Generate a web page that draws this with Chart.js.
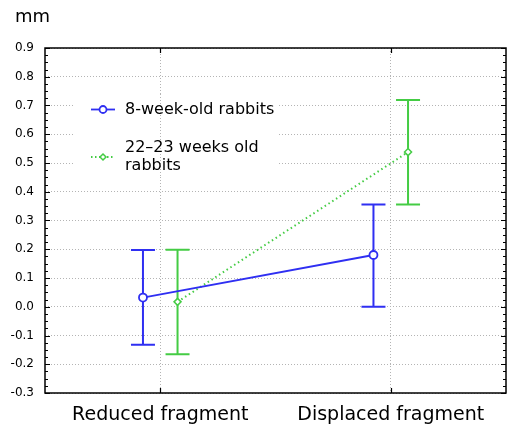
<!DOCTYPE html>
<html>
<head>
<meta charset="utf-8">
<script src="https://cdn.jsdelivr.net/npm/chart.js@4.4.1/dist/chart.umd.min.js"></script>
<style>
  html, body { margin: 0; padding: 0; background: #fff; }
  #wrap { width: 515px; height: 432px; }
</style>
</head>
<body>
<div id="wrap"><canvas id="chart" width="515" height="432"></canvas></div>
<script>
const categories = ['Reduced fragment', 'Displaced fragment'];
const seriesNames = ['8-week-old rabbits', ['22–23 weeks old', 'rabbits']];

// means and error bar ends (mm)
const youngMean = [0.032, 0.180];
const youngLow  = [-0.132, 0.000];
const youngHigh = [0.197, 0.356];
const olderMean = [0.017, 0.538];
const olderLow  = [-0.165, 0.356];
const olderHigh = [0.198, 0.719];

const yTicksMin = -0.3, yTicksMax = 0.9;

const BLUE = '#2f2ff2';
const GREEN = '#44cc44';
const FONT = "'DejaVu Sans', sans-serif";

const catX = i => i * 2 + 1;

const youngPts = youngMean.map((v, i) => ({ x: catX(i) - 0.15, y: v }));
const olderPts = olderMean.map((v, i) => ({ x: catX(i) + 0.15, y: v }));

const frame = {
    id: 'frame',
    beforeDatasetsDraw(chart) {
        const { ctx, scales } = chart;
        // white patch behind the legend, vertical grid line stays visible
        ctx.save();
        ctx.fillStyle = '#fff';
        ctx.fillRect(75, 94, 202, 82);
        ctx.strokeStyle = '#b4b4b4';
        ctx.setLineDash([1, 2]);
        ctx.lineWidth = 1;
        const gx = Math.round(scales.x.getPixelForValue(catX(0))) + 0.5;
        ctx.beginPath();
        ctx.moveTo(gx, 94);
        ctx.lineTo(gx, 176);
        ctx.stroke();
        ctx.restore();

        // error bars
        const bars = [
            [youngPts, youngLow, youngHigh, BLUE],
            [olderPts, olderLow, olderHigh, GREEN]
        ];
        ctx.save();
        ctx.lineWidth = 2;
        bars.forEach(([pts, lo, hi, col]) => {
            ctx.strokeStyle = col;
            pts.forEach((p, i) => {
                const x = scales.x.getPixelForValue(p.x);
                const y1 = scales.y.getPixelForValue(lo[i]);
                const y2 = scales.y.getPixelForValue(hi[i]);
                ctx.beginPath();
                ctx.moveTo(x, y1); ctx.lineTo(x, y2);
                ctx.moveTo(x - 12, y1); ctx.lineTo(x + 12, y1);
                ctx.moveTo(x - 12, y2); ctx.lineTo(x + 12, y2);
                ctx.stroke();
            });
        });
        ctx.restore();
    },
    afterDraw(chart) {
        const { ctx, chartArea: a, scales } = chart;
        ctx.save();
        ctx.strokeStyle = '#000';
        ctx.lineWidth = 1.5;
        ctx.strokeRect(a.left, a.top, a.right - a.left, a.bottom - a.top);

        // ticks on left and right axes, 4 minor steps per label
        ctx.lineWidth = 1.2;
        ctx.beginPath();
        for (let i = 0; i <= 48; i++) {
            const y = Math.round(scales.y.getPixelForValue(yTicksMin + i * 0.025)) + 0.5;
            const len = i % 4 === 0 ? 5 : 3;
            ctx.moveTo(a.left, y); ctx.lineTo(a.left + len, y);
            ctx.moveTo(a.right, y); ctx.lineTo(a.right - len, y);
        }
        categories.forEach((c, i) => {
            const x = Math.round(scales.x.getPixelForValue(catX(i))) + 0.5;
            ctx.moveTo(x, a.top); ctx.lineTo(x, a.top + 5);
            ctx.moveTo(x, a.bottom); ctx.lineTo(x, a.bottom - 5);
        });
        ctx.stroke();

        // unit label
        ctx.fillStyle = '#000';
        ctx.font = '18px ' + FONT;
        ctx.textBaseline = 'middle';
        ctx.fillText('mm', 15, 17);

        // legend
        ctx.font = '16px ' + FONT;
        ctx.lineWidth = 1.8;
        ctx.strokeStyle = BLUE;
        ctx.beginPath(); ctx.moveTo(91, 109.5); ctx.lineTo(115, 109.5); ctx.stroke();
        ctx.fillStyle = '#fff';
        ctx.beginPath(); ctx.arc(103, 109.5, 3.5, 0, Math.PI * 2); ctx.fill(); ctx.stroke();
        ctx.strokeStyle = GREEN;
        ctx.setLineDash([1.5, 2.5]);
        ctx.lineWidth = 2;
        ctx.beginPath(); ctx.moveTo(91, 157); ctx.lineTo(115, 157); ctx.stroke();
        ctx.setLineDash([]);
        ctx.lineWidth = 1.5;
        ctx.beginPath();
        ctx.moveTo(103, 154); ctx.lineTo(106, 157); ctx.lineTo(103, 160); ctx.lineTo(100, 157); ctx.closePath();
        ctx.fill(); ctx.stroke();
        ctx.fillStyle = '#000';
        ctx.fillText(seriesNames[0], 125, 110);
        ctx.fillText(seriesNames[1][0], 125, 148);
        ctx.fillText(seriesNames[1][1], 125, 166);
        ctx.restore();
    }
};

const gridStyle = {
    color: '#b4b4b4',
    lineWidth: 1,
    drawTicks: false
};

new Chart(document.getElementById('chart'), {
    type: 'line',
    data: {
        datasets: [
            {
                label: '8-week-old rabbits',
                data: youngPts,
                borderColor: BLUE,
                borderWidth: 1.8,
                pointStyle: 'circle',
                pointRadius: 4,
                pointBorderWidth: 1.8,
                pointBackgroundColor: '#fff',
                pointBorderColor: BLUE
            },
            {
                label: '22–23 weeks old rabbits',
                data: olderPts,
                borderColor: GREEN,
                borderWidth: 2,
                borderDash: [1.5, 3],
                pointStyle: 'rectRot',
                pointRadius: 3.5,
                pointBorderWidth: 1.5,
                pointBackgroundColor: '#fff',
                pointBorderColor: GREEN
            }
        ]
    },
    options: {
        responsive: false,
        animation: false,
        layout: { padding: { top: 48, right: 9, left: 0, bottom: 0 } },
        plugins: { legend: { display: false }, tooltip: { enabled: false } },
        scales: {
            x: {
                type: 'linear',
                min: 0,
                max: 4,
                afterBuildTicks: s => { s.ticks = categories.map((c, i) => ({ value: catX(i) })); },
                afterFit: s => { s.height = 39; },
                grid: gridStyle,
                border: { display: false, dash: [1, 2] },
                ticks: {
                    padding: 11,
                    color: '#000',
                    font: { family: FONT, size: 19 },
                    maxRotation: 0,
                    autoSkip: false,
                    callback: v => categories[(v - 1) / 2]
                }
            },
            y: {
                min: yTicksMin,
                max: yTicksMax,
                afterFit: s => { s.width = 45; },
                grid: gridStyle,
                border: { display: false, dash: [1, 2] },
                ticks: {
                    stepSize: 0.1,
                    padding: 11,
                    color: '#000',
                    font: { family: FONT, size: 12 },
                    callback: v => v.toFixed(1)
                }
            }
        }
    },
    plugins: [frame]
});
</script>
</body>
</html>
